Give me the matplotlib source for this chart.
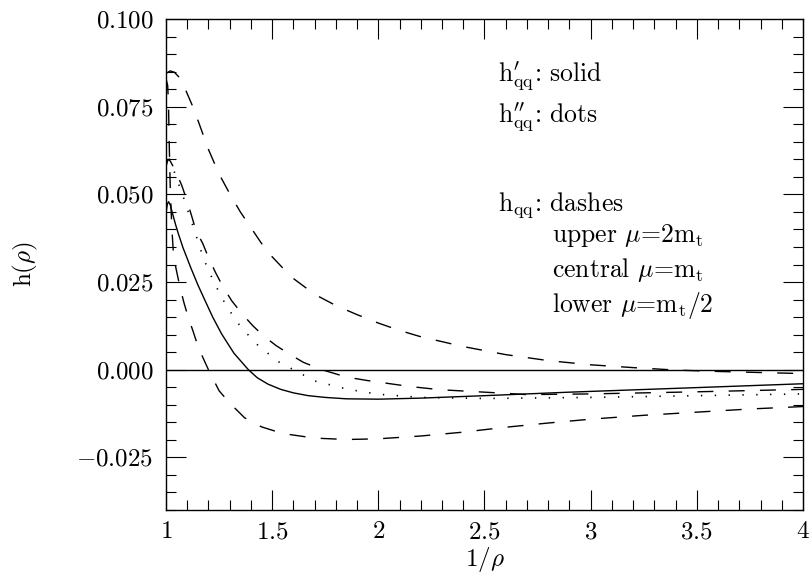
import numpy as np
import matplotlib
matplotlib.use("Agg")
import matplotlib.pyplot as plt
from matplotlib.ticker import MultipleLocator, FuncFormatter

plt.rcParams['font.family'] = ['cmr10']
plt.rcParams['mathtext.fontset'] = 'cm'
plt.rcParams['axes.unicode_minus'] = False

# h'_qq (solid)
x_solid = [1.0, 1.006, 1.012, 1.02, 1.03, 1.045, 1.058, 1.08, 1.116, 1.15, 1.184, 1.22,
           1.262, 1.32, 1.388, 1.43, 1.48, 1.54, 1.6, 1.67, 1.75, 1.85, 2.0, 2.2, 2.5,
           2.9, 3.5, 4.0]
y_solid = [0.0445, 0.0472, 0.0479, 0.0470, 0.0447, 0.0414, 0.0388, 0.0348, 0.0292, 0.0242,
           0.0197, 0.0150, 0.0102, 0.0047, 0.0, -0.0023, -0.0041, -0.0056, -0.0066,
           -0.0074, -0.0079, -0.0083, -0.0084, -0.0081, -0.0074, -0.0064, -0.0051, -0.0040]

# h''_qq (dots)
x_dots = [1.0, 1.01, 1.03, 1.05, 1.082, 1.121, 1.178, 1.226, 1.284, 1.353, 1.437, 1.532,
          1.641, 1.7, 1.85, 2.0, 2.2, 2.5, 3.0, 3.5, 4.0]
y_dots = [0.058, 0.061, 0.058, 0.0545, 0.0492, 0.0421, 0.0315, 0.0249, 0.0182, 0.0121,
          0.0067, 0.0022, -0.0013, -0.0032, -0.0055, -0.0070, -0.0079, -0.0082, -0.0079,
          -0.0074, -0.0069]

# h_qq, mu = 2 m_t
x_upper = [1.0, 1.02, 1.04, 1.06, 1.08, 1.1, 1.13, 1.16, 1.2, 1.25, 1.3, 1.35, 1.4, 1.45,
           1.5, 1.55, 1.6, 1.7, 1.8, 1.9, 2.0, 2.1, 2.2, 2.4, 2.6, 2.8, 3.0, 3.2, 3.4,
           3.6, 3.8, 4.0]
y_upper = [0.0845, 0.0852, 0.0848, 0.0835, 0.0815, 0.0787, 0.0745, 0.0695, 0.0628, 0.0558,
           0.0502, 0.0450, 0.0405, 0.0360, 0.0322, 0.0290, 0.0260, 0.0215, 0.0183, 0.0157,
           0.0133, 0.0112, 0.0094, 0.0066, 0.0043, 0.0026, 0.0014, 0.0006, -0.0001,
           -0.0005, -0.0008, -0.0011]

# h_qq, mu = m_t
x_central = [1.0, 1.01, 1.02, 1.042, 1.074, 1.1, 1.12, 1.141, 1.173, 1.202, 1.235, 1.27,
             1.309, 1.356, 1.408, 1.458, 1.518, 1.58, 1.647, 1.734, 1.85, 1.95, 2.15,
             2.29, 2.59, 2.7, 3.0, 3.5, 4.0]
y_central = [0.058, 0.060, 0.0595, 0.057, 0.0526, 0.048, 0.044, 0.0397, 0.036, 0.0317,
             0.0275, 0.0235, 0.0197, 0.0161, 0.0126, 0.0097, 0.0069, 0.0045, 0.0021, 0.0,
             -0.0021, -0.0031, -0.0048, -0.0057, -0.0067, -0.0071, -0.0069, -0.0063,
             -0.0056]

# h_qq, mu = m_t/2
x_lower = [1.0, 1.008, 1.012, 1.015, 1.02, 1.027, 1.035, 1.047, 1.066, 1.085, 1.105,
           1.129, 1.152, 1.184, 1.2, 1.25, 1.3, 1.37, 1.45, 1.55, 1.7, 1.85, 2.0, 2.2,
           2.4, 2.6, 2.8, 3.0, 3.25, 3.5, 3.75, 4.0]
y_lower = [0.083, 0.081, 0.075, 0.065, 0.052, 0.041, 0.033, 0.0289, 0.0235, 0.019, 0.0149,
           0.0107, 0.0064, 0.0021, 0.0, -0.006, -0.0095, -0.0137, -0.0163, -0.0182,
           -0.0195, -0.0199, -0.0197, -0.0189, -0.0178, -0.0164, -0.0152, -0.0141,
           -0.013, -0.0121, -0.0112, -0.0105]

fig = plt.figure(figsize=(8.09, 5.75), dpi=100)
ax = fig.add_axes([166 / 809, 65 / 575, 637 / 809, 491 / 575])

dash = (0, (11.5, 11))
ax.axhline(0.0, color='black', lw=1.0)
ax.plot(x_solid, y_solid, color='black', lw=1.0)
ax.plot(x_dots, y_dots, color='black', lw=1.2, linestyle=(0, (0.8, 7.5)))
ax.plot(x_upper, y_upper, color='black', lw=1.0, linestyle=dash)
ax.plot(x_central, y_central, color='black', lw=1.0, linestyle=dash)
ax.plot(x_lower, y_lower, color='black', lw=1.0, linestyle=dash)

ax.set_xlim(1, 4)
ax.set_ylim(-0.04, 0.1)
ax.xaxis.set_major_locator(MultipleLocator(0.5))
ax.xaxis.set_minor_locator(MultipleLocator(0.1))
ax.yaxis.set_major_locator(MultipleLocator(0.025))
ax.yaxis.set_minor_locator(MultipleLocator(0.005))
ax.xaxis.set_major_formatter(FuncFormatter(lambda v, p: '$%g$' % v))
ax.yaxis.set_major_formatter(FuncFormatter(lambda v, p: '$%.3f$' % (0.0 if abs(v) < 1e-9 else v)))
ax.tick_params(which='both', direction='in', top=True, right=True, labelsize=18)
ax.tick_params(which='major', length=14.5, width=0.8)
ax.tick_params(which='minor', length=7.2, width=0.8)
ax.tick_params(axis='x', pad=8)
ax.tick_params(axis='y', pad=9)
for s in ax.spines.values():
    s.set_linewidth(1.0)

ax.set_xlabel(r'$1/\rho$', fontsize=18, labelpad=1)
ax.set_ylabel(r'$\mathrm{h}(\rho)$', fontsize=18, labelpad=26)

fs = 18.5
tx, tx2 = 0.521, 0.606
ax.text(tx, 0.8723, r"$\mathrm{h}^{\prime}_{\mathrm{qq}}$: solid", transform=ax.transAxes,
        fontsize=fs, va='baseline')
ax.text(tx, 0.7888, r"$\mathrm{h}^{\prime\prime}_{\mathrm{qq}}$: dots", transform=ax.transAxes,
        fontsize=fs, va='baseline')
ax.text(tx, 0.6096, r"$\mathrm{h}_{\mathrm{qq}}$: dashes", transform=ax.transAxes,
        fontsize=fs, va='baseline')
ax.text(tx2, 0.5464, r"upper $\mu$=2m$_\mathrm{t}$", transform=ax.transAxes,
        fontsize=fs, va='baseline')
ax.text(tx2, 0.4752, r"central $\mu$=m$_\mathrm{t}$", transform=ax.transAxes,
        fontsize=fs, va='baseline')
ax.text(tx2, 0.4039, r"lower $\mu$=m$_\mathrm{t}$/2", transform=ax.transAxes,
        fontsize=fs, va='baseline')

fig.savefig('out.png', dpi=100)
